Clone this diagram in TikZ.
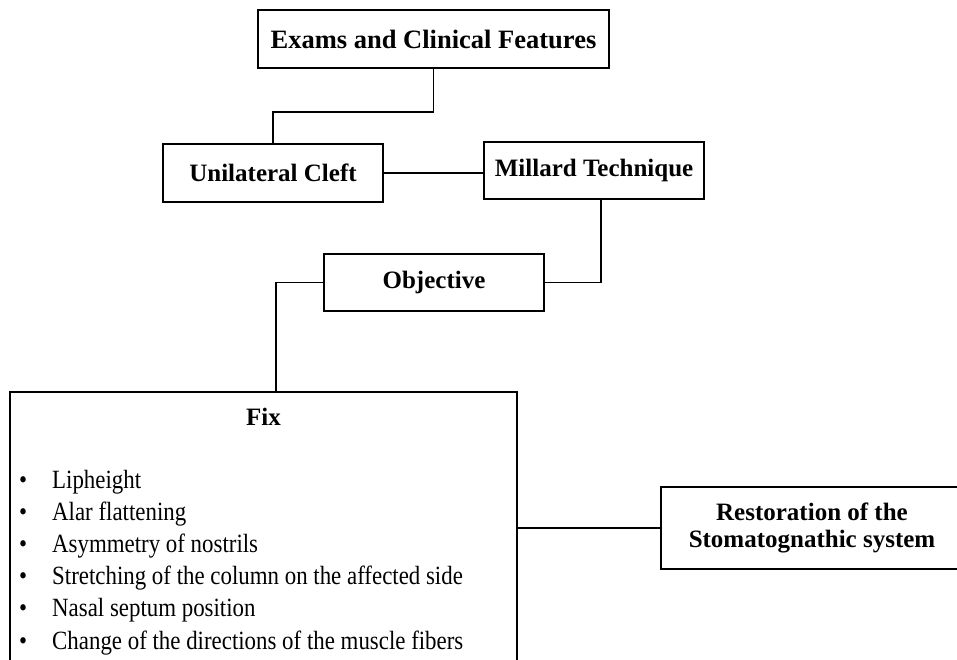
\documentclass[tikz,border=0pt]{standalone}
\usepackage{fontspec}
\setmainfont{Liberation Serif}
\newfontfamily\bodyfont[FakeStretch=0.87]{Liberation Serif}
\begin{document}
\begin{tikzpicture}[x=1pt,y=-1pt,
  box/.style={draw, rectangle, line width=1.9pt, inner sep=0pt, align=center,
    font=\fontsize{25}{27}\selectfont\bfseries},
  link/.style={line width=1.9pt},
  item/.style={anchor=base west, inner sep=0pt, font=\bodyfont\fontsize{26.3}{32}\selectfont}]
\useasboundingbox (0,0) rectangle (957,660);
\clip (0,0) rectangle (957,660);
\node[box, minimum width=351pt, minimum height=58pt, font=\fontsize{26.5}{28}\selectfont\bfseries] (exams) at (433.5,39) {Exams and Clinical Features};
\node[box, minimum width=220pt, minimum height=58pt] (uni) at (273,173) {Unilateral Cleft};
\node[box, minimum width=220pt, minimum height=57pt] (millard) at (594,170.5) {Millard Technique};
\node[box, minimum width=220pt, minimum height=57pt] (obj) at (434,282.5) {Objective};
\node[box, minimum width=507pt, minimum height=308pt] (fix) at (263.5,546) {};
\node[box, minimum width=302pt, minimum height=82pt] (rest) at (812,528) {Restoration of the\\Stomatognathic system};
\node[draw=none, anchor=base, inner sep=0pt, font=\fontsize{25}{27}\selectfont\bfseries] (fixt) at (263.5,425) {Fix};
\foreach \i/\t in {0/Lipheight, 1/Alar flattening, 2/Asymmetry of nostrils,
  3/Stretching of the column on the affected side, 4/Nasal septum position,
  5/Change of the directions of the muscle fibers} {
  \node[item] (b\i) at (19,488+32.2*\i) {\textbullet};
  \node[item] (t\i) at (52,488+32.2*\i) {\t};
}
\draw[link] (exams.south) -- ++(0,43) -| (uni.north);
\draw[link] (uni.east) -- (uni.east -| millard.west);
\draw[link] ([xshift=7pt]millard.south) |- (obj.east);
\draw[link] (obj.west) -| ([xshift=12.5pt]fix.north);
\draw[link] (rest.west) -- (rest.west -| fix.east);
\end{tikzpicture}
\end{document}
